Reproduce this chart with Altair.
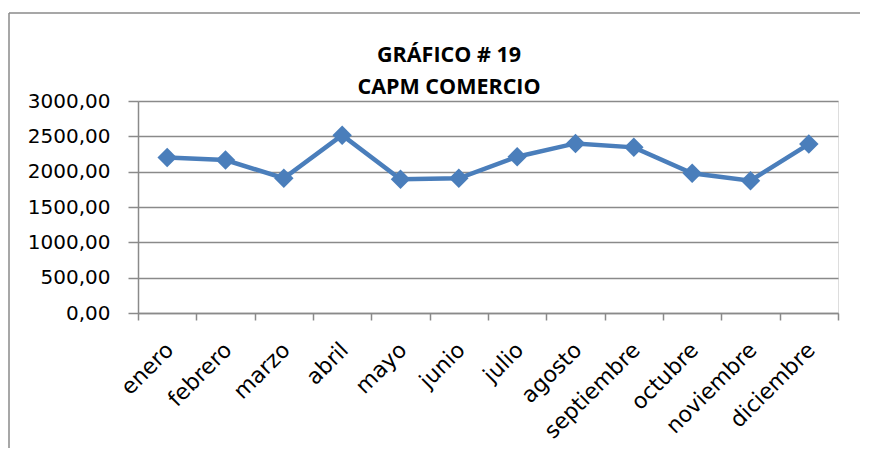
import altair as alt
import pandas as pd

months = ["enero", "febrero", "marzo", "abril", "mayo", "junio", "julio",
          "agosto", "septiembre", "octubre", "noviembre", "diciembre"]
values = [2200, 2165, 1907, 2517, 1893, 1907, 2211, 2400, 2344, 1977, 1873, 2390]
y_ticks = [0, 500, 1000, 1500, 2000, 2500, 3000]

df = pd.DataFrame({"mes": months, "valor": values})

BLUE = "#4A7EBB"
GRAY = "#8A8A8A"
LABEL_FONT = "DejaVu Sans"

x_enc = alt.X(
    "mes:N", sort=months, bandPosition=0.5, title=None,
    scale=alt.Scale(type="band", paddingInner=0, paddingOuter=0),
    axis=alt.Axis(labelAngle=-45, tickBand="extent", tickSize=7, tickColor=GRAY,
                  tickWidth=1.5, domainColor=GRAY, domainWidth=1.5, grid=False,
                  labelFont=LABEL_FONT, labelFontSize=22, labelColor="black",
                  labelPadding=19, labelOffset=-5),
)
y_enc = alt.Y(
    "valor:Q", title=None,
    scale=alt.Scale(domain=[0, 3000], nice=False, zero=True),
    axis=alt.Axis(values=y_ticks, grid=True, gridColor=GRAY, gridWidth=1.5,
                  tickSize=10, tickColor=GRAY, tickWidth=1.5, domainColor=GRAY,
                  domainWidth=1.5, labelFont=LABEL_FONT, labelFontSize=20,
                  labelColor="black", labelPadding=18,
                  labelExpr="replace(format(datum.value, '.2f'), '.', ',')"),
)

base = alt.Chart(df)
line = base.mark_line(color=BLUE, strokeWidth=4.5).encode(x=x_enc, y=y_enc)
points = base.mark_point(shape="diamond", filled=True, size=380, color=BLUE,
                         opacity=1).encode(x=x_enc, y=y_enc)

frame_df = pd.DataFrame({"a": [0]})
frame_top = alt.Chart(frame_df).mark_rule(color=GRAY, strokeWidth=1.5).encode(
    x=alt.value(-129), x2=alt.value(722), y=alt.value(-88))
frame_left = alt.Chart(frame_df).mark_rule(color=GRAY, strokeWidth=1.5).encode(
    x=alt.value(-129), y=alt.value(-88), y2=alt.value(347))

chart = alt.layer(frame_top, frame_left, line, points).properties(
    width=700, height=212,
    padding={"left": 0, "top": 4, "right": 0, "bottom": 0},
    title=alt.TitleParams(text=["GRÁFICO # 19", "CAPM COMERCIO"], font="Open Sans",
                          fontSize=21.5, fontWeight="bold", lineHeight=32,
                          anchor="middle", dx=-39, offset=-86, color="black"),
).configure_view(stroke=None).configure(background="white")

chart.save("out.html", embed_options={"renderer": "svg", "actions": False})
